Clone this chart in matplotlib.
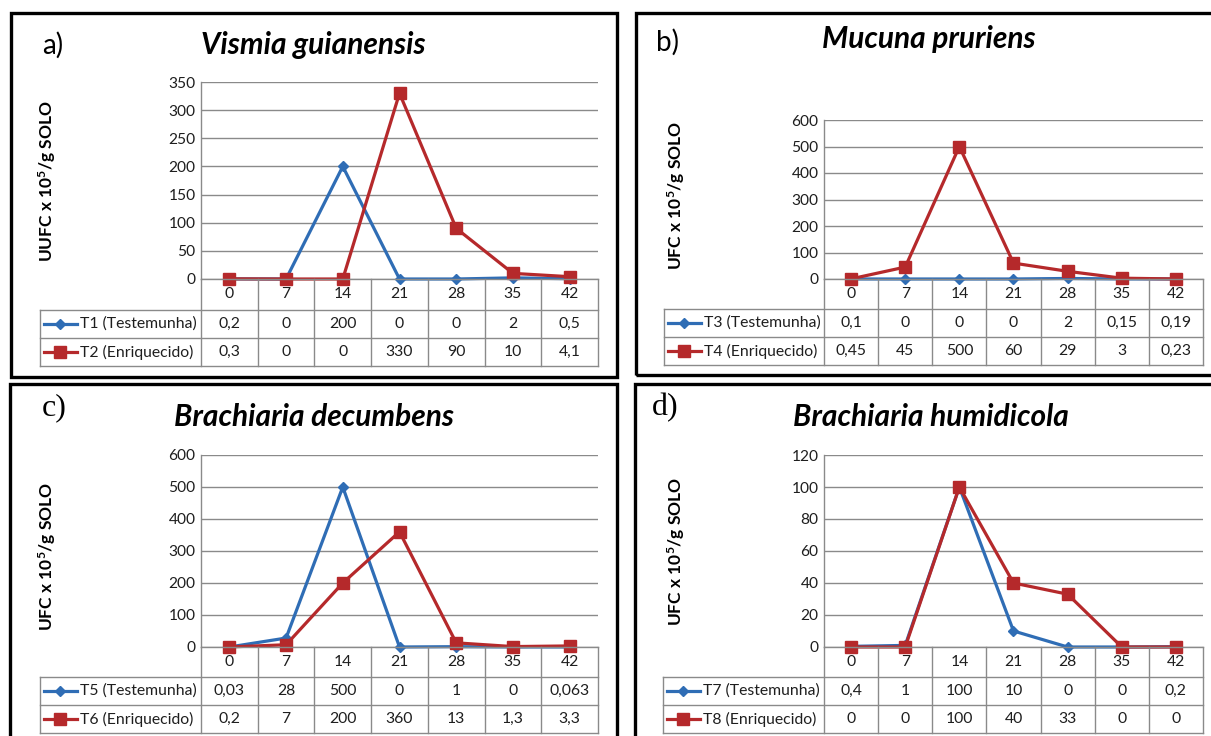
import matplotlib
matplotlib.use("Agg")
import matplotlib.pyplot as plt
from matplotlib.patches import Rectangle
from matplotlib.lines import Line2D
from matplotlib.transforms import blended_transform_factory

plt.rcParams['font.family'] = ['Lato', 'DejaVu Sans']
plt.rcParams['mathtext.default'] = 'regular'

W, H = 1211, 736

# ---------------- data ----------------
days = ["0", "7", "14", "21", "28", "35", "42"]

titles = ["Vismia guianensis", "Mucuna pruriens", "Brachiaria decumbens", "Brachiaria humidicola"]
letters = ["a)", "b)", "c)", "d)"]
ylabels = ["UUFC x 10$^{5}$/g SOLO", "UFC x 10$^{5}$/g SOLO",
           "UFC x 10$^{5}$/g SOLO", "UFC x 10$^{5}$/g SOLO"]
yticks_max = [350, 600, 600, 120]
yticks_step = [50, 100, 100, 20]

names_test = ["T1 (Testemunha)", "T3 (Testemunha)", "T5 (Testemunha)", "T7 (Testemunha)"]
names_enr = ["T2 (Enriquecido)", "T4 (Enriquecido)", "T6 (Enriquecido)", "T8 (Enriquecido)"]

t1_labels = ["0,2", "0", "200", "0", "0", "2", "0,5"]
t2_labels = ["0,3", "0", "0", "330", "90", "10", "4,1"]
t3_labels = ["0,1", "0", "0", "0", "2", "0,15", "0,19"]
t4_labels = ["0,45", "45", "500", "60", "29", "3", "0,23"]
t5_labels = ["0,03", "28", "500", "0", "1", "0", "0,063"]
t6_labels = ["0,2", "7", "200", "360", "13", "1,3", "3,3"]
t7_labels = ["0,4", "1", "100", "10", "0", "0", "0,2"]
t8_labels = ["0", "0", "100", "40", "33", "0", "0"]

test_labels = [t1_labels, t3_labels, t5_labels, t7_labels]
enr_labels = [t2_labels, t4_labels, t6_labels, t8_labels]

def to_num(lbls):
    return [float(s.replace(",", ".")) for s in lbls]

BLUE = "#2F6DB5"
RED = "#B5292B"
GRID = "#8A8A8A"
TXT = "#1E1E1E"

FS_TICK = 11.2
FS_TAB = 11.3

# ---------------- layout (pixels) ----------------
panels = [
    dict(border=(11, 13, 617, 377), plot=(201, 82, 598, 279), table_left=40,
         rows=(279, 310, 338, 366), title=(313, 45), letter=(53, 45), letter_serif=False,
         ylab=(47, 181)),
    dict(border=(636, 13, 1220, 375), plot=(824, 120, 1203, 279), table_left=664,
         rows=(279, 309, 337, 365), title=(929, 39), letter=(668, 42), letter_serif=False,
         ylab=(676, 195)),
    dict(border=(10, 384, 617, 745), plot=(201, 455, 598, 647), table_left=40,
         rows=(647, 677, 705, 733), title=(314, 417), letter=(54, 408), letter_serif=True,
         ylab=(47, 556)),
    dict(border=(635, 384, 1220, 745), plot=(824, 455, 1203, 647), table_left=663,
         rows=(647, 677, 705, 733), title=(931, 417), letter=(665, 408), letter_serif=True,
         ylab=(676, 551)),
]

fig = plt.figure(figsize=(W / 100, H / 100), dpi=100)
fig.patch.set_facecolor("white")

def fx(x):
    return x / W

def fy(y):
    return 1 - y / H

for k, p in enumerate(panels):
    bx0, by0, bx1, by1 = p["border"]
    fig.add_artist(Rectangle((fx(bx0), fy(by1)), fx(bx1) - fx(bx0), fy(by0) - fy(by1),
                             transform=fig.transFigure, fill=False, ec="black", lw=2.4))

    px0, py0, px1, py1 = p["plot"]
    ax = fig.add_axes([fx(px0), fy(py1), fx(px1) - fx(px0), fy(py0) - fy(py1)])
    ax.set_xlim(-0.5, len(days) - 0.5)
    ymax = yticks_max[k]
    ax.set_ylim(0, ymax)
    ax.set_yticks(range(0, ymax + 1, yticks_step[k]))
    ax.set_xticks([])
    for s in ["top", "right", "bottom"]:
        ax.spines[s].set_visible(False)
    ax.spines["left"].set_color(GRID)
    ax.spines["left"].set_linewidth(1.0)
    ax.yaxis.grid(True, color=GRID, lw=1.0)
    ax.set_axisbelow(True)
    ax.tick_params(axis="y", length=0, pad=4, labelsize=FS_TICK, labelcolor=TXT)
    ax.patch.set_alpha(0)

    x = list(range(len(days)))
    ax.plot(x, to_num(test_labels[k]), color=BLUE, lw=2.3, marker="D", ms=5.5,
            mfc=BLUE, mec=BLUE, clip_on=False, zorder=3)
    ax.plot(x, to_num(enr_labels[k]), color=RED, lw=2.3, marker="s", ms=9,
            mfc=RED, mec=RED, clip_on=False, zorder=4)

    # ----- data table -----
    tr = blended_transform_factory(ax.transData, fig.transFigure)
    r0, r1, r2, r3 = p["rows"]
    tl = p["table_left"]
    lw_t = 1.0
    for i in range(len(days) + 1):
        fig.add_artist(Line2D([i - 0.5, i - 0.5], [fy(r0), fy(r3)], transform=tr,
                              color=GRID, lw=lw_t))
    fig.add_artist(Line2D([-0.5, len(days) - 0.5], [fy(r0), fy(r0)], transform=tr, color=GRID, lw=lw_t))
    for yy in (r1, r2, r3):
        fig.add_artist(Line2D([fx(tl), fx(px1)], [fy(yy), fy(yy)], transform=fig.transFigure,
                              color=GRID, lw=lw_t))
    fig.add_artist(Line2D([fx(tl), fx(tl)], [fy(r1), fy(r3)], transform=fig.transFigure,
                          color=GRID, lw=lw_t))

    for i, d in enumerate(days):
        fig.text(i, fy((r0 + r1) / 2), d, transform=tr, ha="center", va="center",
                 fontsize=FS_TAB, color=TXT)
        fig.text(i, fy((r1 + r2) / 2), test_labels[k][i], transform=tr, ha="center",
                 va="center", fontsize=FS_TAB, color=TXT)
        fig.text(i, fy((r2 + r3) / 2), enr_labels[k][i], transform=tr, ha="center",
                 va="center", fontsize=FS_TAB, color=TXT)

    for (ya, yb), col, mk, ms, name in [((r1, r2), BLUE, "D", 5, names_test[k]),
                                         ((r2, r3), RED, "s", 8.5, names_enr[k])]:
        yc = fy((ya + yb) / 2)
        fig.add_artist(Line2D([fx(tl + 4), fx(tl + 37)], [yc, yc], transform=fig.transFigure,
                              color=col, lw=2.3))
        fig.add_artist(Line2D([fx(tl + 20)], [yc], transform=fig.transFigure,
                              color=col, marker=mk, ms=ms, mfc=col, mec=col))
        fig.text(fx(tl + 40), yc, name, ha="left", va="center", fontsize=FS_TAB, color=TXT)

    tx, ty = p["title"]
    fig.text(fx(tx), fy(ty), titles[k], ha="center", va="center", fontsize=21.5,
             fontweight="bold", fontstyle="italic", color="black")
    lx, ly = p["letter"]
    if p["letter_serif"]:
        fig.text(fx(lx), fy(ly), letters[k], ha="center", va="center", fontsize=23,
                 family="Liberation Serif", color="black")
    else:
        fig.text(fx(lx), fy(ly), letters[k], ha="center", va="center", fontsize=20,
                 color="black")
    yx, yy_ = p["ylab"]
    fig.text(fx(yx), fy(yy_), ylabels[k], ha="center", va="center", rotation=90,
             fontsize=12.5, fontweight="bold", color="black")

fig.savefig("out.png", dpi=100, facecolor="white")
